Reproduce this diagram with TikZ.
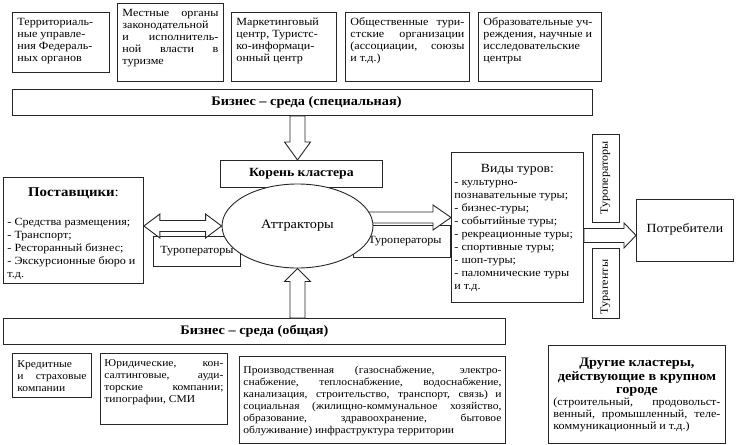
\documentclass[tikz,border=0pt]{standalone}
\usepackage{fontspec}
\setmainfont{Liberation Serif}[FakeStretch=1.1]
\usetikzlibrary{shapes.geometric,calc}
\pgfdeclarelayer{bg}
\pgfsetlayers{bg,main}
\tikzset{
  bx/.style={draw=black!85, line width=0.9pt, fill=white, rectangle, anchor=north west, inner xsep=5pt, inner ysep=5pt},
  plain/.style={draw=black!85, line width=0.9pt, fill=white, rectangle, inner sep=0pt},
  blk/.style={draw=black!85, line width=0.9pt, fill=white, line join=miter},
}
\newcommand\tb[3]{\parbox[t][#2pt][t]{#1pt}{#3}}
\newcommand\tbc[3]{\parbox[t][#2pt][c]{#1pt}{#3}}
\newcommand\fa{\fontsize{11}{12}\selectfont\strut}
\newcommand\fb{\fontsize{10.5}{12}\selectfont\strut}
\newcommand\justi{\leftskip=0pt\rightskip=0pt\parfillskip=0pt plus 1fil\relax}
\newcommand\HArrow[5]{%
  \draw[blk] let \p1=(#1), \p2=(#2) in
    (\x1,\y1+#3) -- (\x2-#5,\y1+#3) -- (\x2-#5,\y1+#4) -- (\x2,\y1) --
    (\x2-#5,\y1-#4) -- (\x2-#5,\y1-#3) -- (\x1,\y1-#3) -- cycle;}
\newcommand\DblArrow[5]{%
  \draw[blk] let \p1=(#1), \p2=(#2) in
    (\x1,\y1) -- (\x1+#5,\y1+#4) -- (\x1+#5,\y1+#3) -- (\x2-#5,\y1+#3) --
    (\x2-#5,\y1+#4) -- (\x2,\y1) -- (\x2-#5,\y1-#4) -- (\x2-#5,\y1-#3) --
    (\x1+#5,\y1-#3) -- (\x1+#5,\y1-#4) -- cycle;}
\newcommand\DownArrow[5]{%
  \draw[blk] let \p1=(#1), \p2=(#2) in
    (\x1-#3,\y1) -- (\x1-#3,\y2+#5) -- (\x1-#4,\y2+#5) -- (\x1,\y2) --
    (\x1+#4,\y2+#5) -- (\x1+#3,\y2+#5) -- (\x1+#3,\y1) -- cycle;}
\newcommand\UpArrow[5]{%
  \draw[blk] let \p1=(#1), \p2=(#2) in
    (\x1-#3,\y1) -- (\x1-#3,\y2-#5) -- (\x1-#4,\y2-#5) -- (\x1,\y2) --
    (\x1+#4,\y2-#5) -- (\x1+#3,\y2-#5) -- (\x1+#3,\y1) -- cycle;}
\begin{document}
\begin{tikzpicture}[x=1pt,y=-1pt]
\useasboundingbox (0,0) rectangle (738,444);
% top row
\node[bx] (t1) at (12,12) {\tb{87}{50}{\raggedright\fa Территориаль-\\ные управле-\\ния Федераль-\\ных органов}};
\node[bx] (t2) at (117,3) {\tb{96}{68}{\fa Местные органы\linebreak законодательной\linebreak и исполнитель-\linebreak ной власти в\linebreak туризме}};
\node[bx] (t3) at (231,12) {\tb{95}{59}{\raggedright\fa Маркетинговый\\центр, Туристс-\\ко-информаци-\\онный центр}};
\node[bx] (t4) at (345,12) {\tb{114}{59}{\fa Общественные тури-\linebreak стские организации\linebreak (ассоциации, союзы\linebreak и т.д.)}};
\node[bx] (t5) at (478,12) {\tb{113}{59}{\raggedright\fa Образовательные уч-\\реждения, научные и\\исследовательские\\центры}};
\node[plain, anchor=north west, minimum width=580pt, minimum height=26pt] (bs1) at (12,89)
  {\fontsize{13}{14}\selectfont\bfseries\hspace*{8pt}Бизнес – среда (специальная)};
% root
\node[plain, anchor=north west, minimum width=162pt, minimum height=27pt] (root) at (220,160)
  {\fontsize{12.5}{14}\selectfont\bfseries Корень кластера};
% suppliers
\node[bx, inner xsep=4pt, inner ysep=9pt] (sup) at (3,177) {\tb{132}{88}{\centering\fontsize{13.5}{15}\selectfont\strut\textbf{Поставщики}:\par
  \vspace{15pt}\raggedright\fontsize{11}{13.2}\selectfont - Средства размещения;\\- Транспорт;\\- Ресторанный бизнес;\\- Экскурсионные бюро и\\т.д.}};
% tour types
\node[bx, inner xsep=3pt, inner ysep=10pt] (vid) at (451,152) {\tb{126}{130}{\centering\fontsize{12.5}{14}\selectfont\strut Виды туров:\par
  \raggedright\fontsize{11}{13}\selectfont - культурно-\\познавательные туры;\\- бизнес-туры;\\- событийные туры;\\- рекреационные туры;\\- спортивные туры;\\- шоп-туры;\\- паломнические туры\\и т.д.}};
\node[plain, rotate=90, minimum width=88pt, minimum height=27pt, font=\fontsize{11}{12}\selectfont] (vto) at (605.5,178) {Туроператоры};
\node[plain, rotate=90, minimum width=70pt, minimum height=27pt, font=\fontsize{11}{12}\selectfont] (vta) at (605.5,283) {\hspace*{-8pt}Турагенты};
\node[plain, anchor=north west, minimum width=97pt, minimum height=62pt, font=\fontsize{12.5}{14}\selectfont] (cons) at (636,199) {\raisebox{4pt}{Потребители}};
% business environment (general)
\node[plain, anchor=north west, minimum width=502pt, minimum height=26pt] (bs2) at (3,318)
  {\fontsize{13}{14}\selectfont\bfseries Бизнес – среда (общая)};
\node[bx, inner ysep=4pt] (b1) at (12,353) {\tbc{69}{36}{\fb Кредитные\linebreak и страховые\linebreak компании}};
\node[bx, inner xsep=4pt] (b2) at (100,353) {\tb{119}{61}{\fb Юридические, кон-\linebreak салтинговые, ауди-\linebreak торские компании;\linebreak типографии, СМИ}};
\node[bx, inner xsep=4pt, inner ysep=4pt] (b3) at (239,356) {\tbc{258}{79}{\fb Производственная (газоснабжение, электро-\linebreak снабжение, теплоснабжение, водоснабжение,\linebreak канализация, строительство, транспорт, связь) и\linebreak социальная (жилищно-коммунальное хозяйство,\linebreak образование, здравоохранение, бытовое\linebreak облуживание) инфраструктура территории}};
\node[bx, inner ysep=4pt] (b4) at (548,345) {\tbc{167}{90}{\centering\fontsize{13}{13.5}\selectfont\bfseries\strut Другие кластеры,\\действующие в крупном\\городе\par
  \fontsize{11}{11.8}\selectfont\mdseries\justi (строительный, продовольст-\linebreak венный, промышленный, теле-\linebreak коммуникационный и т.д.)}};
% attractors
\node[ellipse, draw=black!85, line width=0.9pt, fill=white, minimum width=151pt, minimum height=84pt, inner sep=0pt,
  font=\fontsize{13}{15}\selectfont] (attr) at (297.5,226) {Аттракторы};
\begin{pgfonlayer}{bg}
  \node[plain, anchor=north west, minimum width=87pt, minimum height=30pt, font=\fontsize{11}{12}\selectfont] (tl) at (153,236) {Туроператоры};
  \node[plain, anchor=north west, minimum width=97pt, minimum height=32pt, font=\fontsize{11}{12}\selectfont] (tr) at (353,225) {\hspace*{6pt}Туроператоры};
  \DblArrow{sup.east |- attr.west}{attr.west}{5.5pt}{12pt}{16pt}
  \HArrow{$(attr.east)+(-8,-8.5)$}{vid.west}{5.5pt}{12.5pt}{18pt}
\end{pgfonlayer}
\HArrow{$(vid.east)+(0,8)$}{cons.west}{7pt}{12.5pt}{12pt}
\DownArrow{attr.center |- bs1.south}{attr.center |- root.north}{7.5pt}{13pt}{18pt}
\UpArrow{attr.center |- bs2.north}{attr.south}{7.5pt}{13pt}{13pt}
\end{tikzpicture}
\end{document}
